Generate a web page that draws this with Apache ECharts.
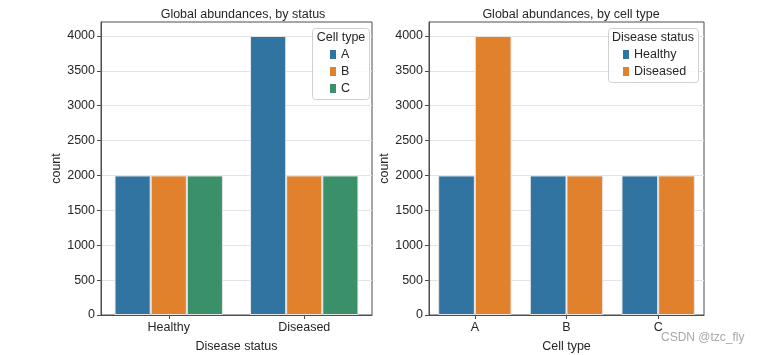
<!DOCTYPE html>
<html><head><meta charset="utf-8">
<script src="https://cdn.jsdelivr.net/npm/echarts@6/dist/echarts.min.js"></script>
<style>html,body{margin:0;padding:0;background:#fff}#c{width:758px;height:355px}</style>
</head><body><div id="c"></div>
<script>
const statusCats = ['Healthy', 'Diseased'];
const cellTypes = ['A', 'B', 'C'];
const byStatus = { A: [2000, 4000], B: [2000, 2000], C: [2000, 2000] };
const byCell = { Healthy: [2000, 2000, 2000], Diseased: [4000, 2000, 2000] };
const yTicks = [0, 500, 1000, 1500, 2000, 2500, 3000, 3500, 4000];

const colors = { A: '#3274a1', B: '#e1812c', C: '#3a9068', Healthy: '#3274a1', Diseased: '#e1812c' };
const font = 'Liberation Sans, Arial, sans-serif';
const axisCol = '#4d4d4d';
const txt = '#262626';

function yAxis(gi) {
  return {
    type: 'value', gridIndex: gi, min: 0, max: 4200, interval: 500,
    name: 'count', nameLocation: 'middle', nameGap: 35,
    nameTextStyle: { fontFamily: font, fontSize: 12.5, color: txt },
    axisLine: { show: true, lineStyle: { color: axisCol } },
    axisTick: { show: true, length: 4, lineStyle: { color: axisCol }, customValues: yTicks },
    axisLabel: { fontFamily: font, fontSize: 12.5, color: txt, margin: 6, customValues: yTicks,
      formatter: v => String(v) },
    splitLine: { lineStyle: { color: '#e3e3e3' } }
  };
}
function xAxis(gi, cats, name) {
  return {
    type: 'category', gridIndex: gi, data: cats, name: name,
    nameLocation: 'middle', nameGap: 25,
    nameTextStyle: { fontFamily: font, fontSize: 12.5, color: txt },
    axisLine: { lineStyle: { color: axisCol } },
    axisTick: { show: true, alignWithLabel: true, length: 4, lineStyle: { color: axisCol } },
    axisLabel: { fontFamily: font, fontSize: 12.5, color: txt, margin: 6 }
  };
}
const series = [];
cellTypes.forEach(k => series.push({
  type: 'bar', name: k, xAxisIndex: 0, yAxisIndex: 0, data: byStatus[k],
  barGap: '0%', barCategoryGap: '20%',
  itemStyle: { color: colors[k], borderColor: '#e6e6e6', borderWidth: 1 }
}));
Object.keys(byCell).forEach(k => series.push({
  type: 'bar', name: k, xAxisIndex: 1, yAxisIndex: 1, data: byCell[k],
  barGap: '0%', barCategoryGap: '20%',
  itemStyle: { color: colors[k], borderColor: '#e6e6e6', borderWidth: 1 }
}));

const legendText = { fontFamily: font, fontSize: 12.5, color: txt, lineHeight: 13 };
const legendItem = { borderWidth: 0 };
const option = {
  animation: false,
  title: [
    { text: 'Global abundances, by status', left: 238, top: 3, textAlign: 'center',
      textStyle: { fontFamily: font, fontSize: 12.5, fontWeight: 'normal', color: txt } },
    { text: 'Global abundances, by cell type', left: 566, top: 3, textAlign: 'center',
      textStyle: { fontFamily: font, fontSize: 12.5, fontWeight: 'normal', color: txt } }
  ],
  grid: [
    { left: 101, right: 386, top: 22, bottom: 40, show: true, borderColor: axisCol, borderWidth: 1,
      outerBoundsMode: 'none', containLabel: false },
    { left: 429, right: 54, top: 22, bottom: 40, show: true, borderColor: axisCol, borderWidth: 1,
      outerBoundsMode: 'none', containLabel: false }
  ],
  xAxis: [xAxis(0, statusCats, 'Disease status'), xAxis(1, cellTypes, 'Cell type')],
  yAxis: [yAxis(0), yAxis(1)],
  legend: [
    { data: cellTypes, orient: 'vertical', left: 330, top: 48, itemGap: 4, icon: 'rect', z: 20,
      itemWidth: 6, itemHeight: 9, textStyle: legendText, padding: 0, itemStyle: legendItem },
    { data: Object.keys(byCell), orient: 'vertical', left: 623, top: 48, itemGap: 4, icon: 'rect', z: 20,
      itemWidth: 6, itemHeight: 9, textStyle: legendText, padding: 0, itemStyle: legendItem }
  ],
  graphic: [
    { type: 'rect', shape: { x: 312.5, y: 28.5, width: 57, height: 71, r: 3 }, z: 5,
      style: { fill: 'rgba(255,255,255,0.8)', stroke: '#d0d0d0', lineWidth: 1 } },
    { type: 'rect', shape: { x: 608.5, y: 28.5, width: 90, height: 54, r: 3 }, z: 5,
      style: { fill: 'rgba(255,255,255,0.8)', stroke: '#d0d0d0', lineWidth: 1 } },
    { type: 'text', x: 341, y: 38, z: 6, style: { text: 'Cell type', fontFamily: font, fontSize: 12.5,
      fill: txt, textAlign: 'center', textVerticalAlign: 'middle' } },
    { type: 'text', x: 653, y: 38, z: 6, style: { text: 'Disease status', fontFamily: font, fontSize: 12.5,
      fill: txt, textAlign: 'center', textVerticalAlign: 'middle' } },
    { type: 'text', x: 661, y: 338, z: 6, style: { text: 'CSDN @tzc_fly', fontFamily: font, fontSize: 12,
      fill: '#a8a8a8', textAlign: 'left', textVerticalAlign: 'middle' } }
  ],
  series: series
};
echarts.init(document.getElementById('c')).setOption(option);
</script></body></html>
